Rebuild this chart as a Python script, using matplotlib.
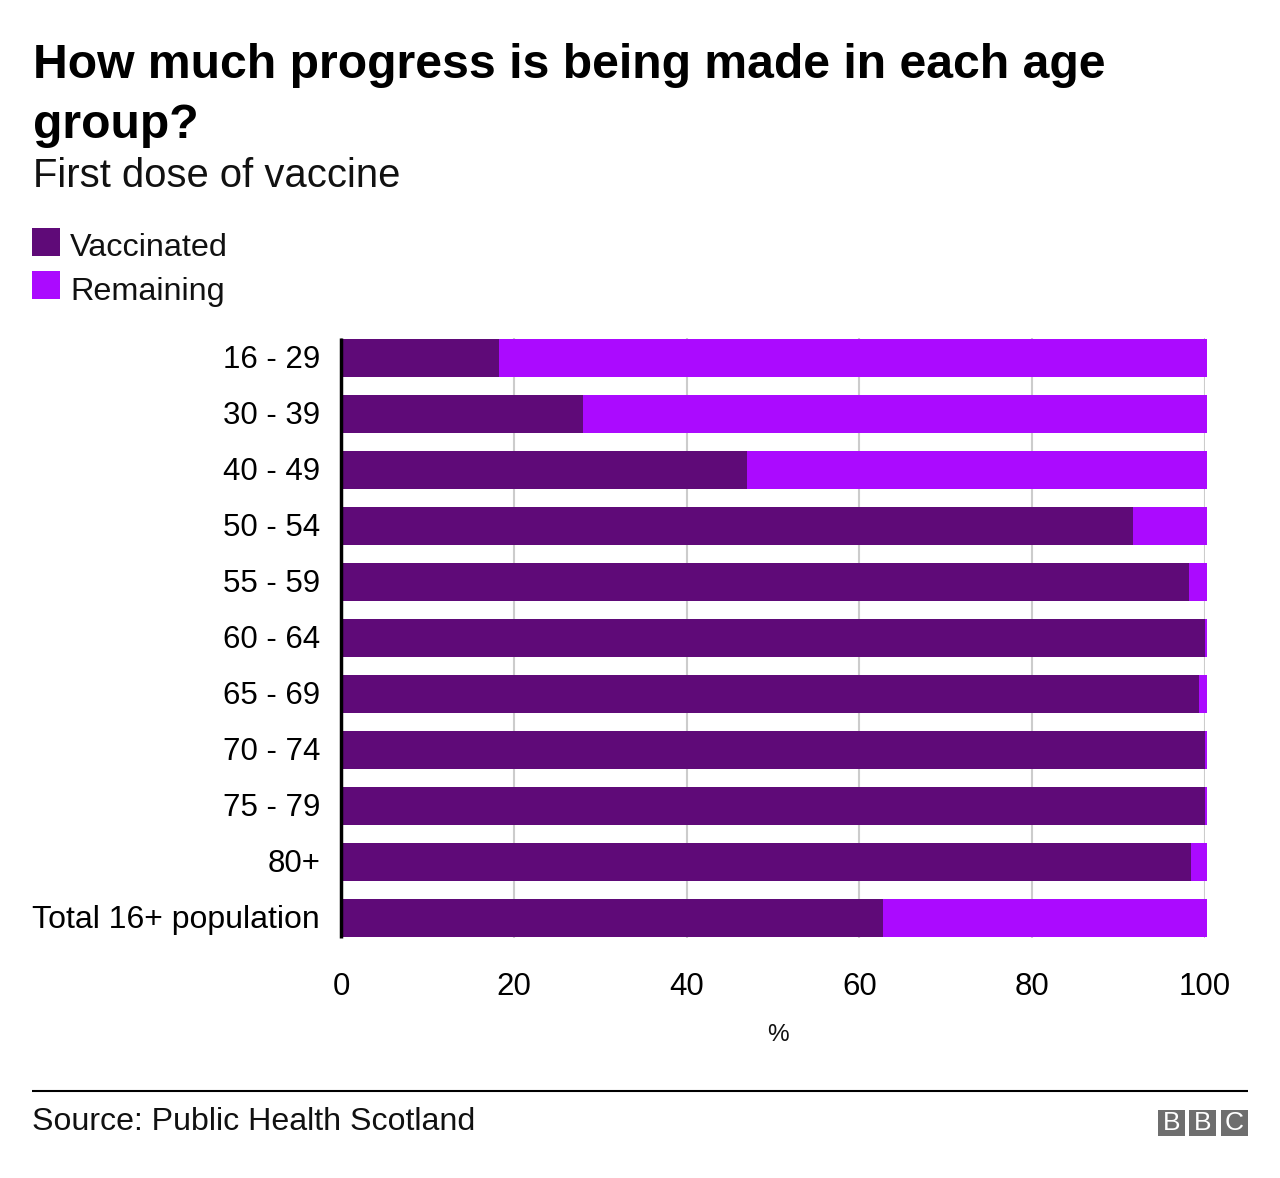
import numpy as np
import matplotlib
matplotlib.use("Agg")
import matplotlib.pyplot as plt
from matplotlib.patches import Rectangle
from matplotlib.transforms import ScaledTranslation

W, H = 1280, 1178

groups = ["16 - 29", "30 - 39", "40 - 49", "50 - 54", "55 - 59", "60 - 64",
          "65 - 69", "70 - 74", "75 - 79", "80+", "Total 16+ population"]
vaccinated = [18.3, 28.0, 47.0, 91.7, 98.1, 100.0, 99.3, 100.0, 100.0, 98.4, 62.7]
remaining = [81.9, 72.2, 53.2, 8.5, 2.1, 0.2, 0.9, 0.2, 0.2, 1.8, 37.5]
xticks = [0, 20, 40, 60, 80, 100]

DARK = "#5f0a78"
BRIGHT = "#ab0aff"

plt.rcParams["font.family"] = ["Liberation Sans", "DejaVu Sans"]


def px_text(x, y, s, **kw):
    return fig.text(x / W, 1 - y / H, s, **kw)


def px_rect(x0, y0, x1, y1, color):
    fig.add_artist(Rectangle((x0 / W, 1 - y1 / H), (x1 - x0) / W, (y1 - y0) / H,
                             transform=fig.transFigure, facecolor=color,
                             edgecolor="none"))


fig = plt.figure(figsize=(W / 100, H / 100), dpi=100)
ax = fig.add_axes([341 / W, 1 - 938 / H, (1205 - 341) / W, 600 / H])

y = np.arange(len(groups))
ax.barh(y, vaccinated, height=38 / 56, color=DARK, zorder=3)
ax.barh(y, remaining, left=vaccinated, height=38 / 56, color=BRIGHT, zorder=3,
        clip_on=False)

ax.set_xlim(0, 100)
ax.set_ylim(len(groups) - 1 + 20 / 56, -20 / 56)
ax.set_xticks(xticks)
ax.set_yticks(y, groups)
ax.grid(axis="x", color="#cccccc", linewidth=1.5, zorder=0)
ax.set_axisbelow(True)
ax.tick_params(axis="both", length=0, labelsize=22.5, labelcolor="#000000")
ax.tick_params(axis="y", pad=15)
ax.tick_params(axis="x", pad=24.5)
for label in ax.get_yticklabels():
    label.set_transform(label.get_transform() + ScaledTranslation(0, 2 / 100, fig.dpi_scale_trans))
ax.get_yticklabels()[-1].set_fontsize(23)
for side in ["top", "right", "bottom"]:
    ax.spines[side].set_visible(False)
ax.spines["left"].set_linewidth(2.5)
ax.spines["left"].set_color("black")
ax.spines["left"].set_zorder(5)
ax.spines["left"].set_capstyle("butt")

px_text(33, 65, "How much progress is being made in each age", fontsize=34.66,
        fontweight="bold", va="center", color="#000000")
px_text(33, 125, "group?", fontsize=34.66, fontweight="bold", va="center",
        color="#000000")
px_text(33, 176, "First dose of vaccine", fontsize=28.8, va="center", color="#111111")

px_rect(32, 228, 60, 256, DARK)
px_rect(32, 271, 60, 299, BRIGHT)
px_text(70, 248, "Vaccinated", fontsize=23.3, va="center", color="#111111")
px_text(70, 292, "Remaining", fontsize=23.3, va="center", color="#111111")

px_text(778, 1035, "%", fontsize=17.5, ha="center", va="center", color="#111111")

fig.add_artist(plt.Line2D([32 / W, 1248 / W], [1 - 1091 / H, 1 - 1091 / H],
                          color="black", linewidth=1.5, solid_capstyle="butt"))
px_text(32, 1122, "Source: Public Health Scotland", fontsize=23.1, va="center",
        color="#111111")

for x0, letter in zip([1158, 1189, 1221], "BBC"):
    px_rect(x0, 1110, x0 + 27, 1136, "#6e6e6e")
    px_text(x0 + 13.5, 1123.5, letter, fontsize=19, ha="center",
            va="center", color="white")

fig.savefig("out.png", dpi=100, facecolor="white")
